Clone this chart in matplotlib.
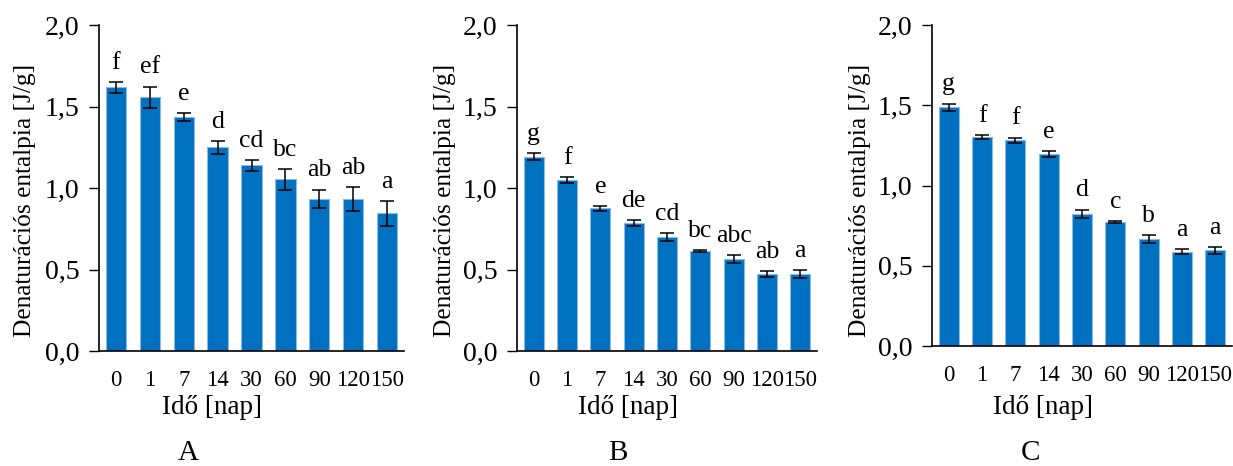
import matplotlib
matplotlib.use("Agg")
from matplotlib import pyplot as plt
from matplotlib.ticker import FuncFormatter, MultipleLocator

# Data
days = ["0", "1", "7", "14", "30", "60", "90", "120", "150"]

a_vals = [1.618, 1.556, 1.434, 1.250, 1.139, 1.053, 0.934, 0.931, 0.845]
a_err = [0.033, 0.066, 0.026, 0.039, 0.034, 0.065, 0.056, 0.075, 0.077]
a_letters = ["f", "ef", "e", "d", "cd", "bc", "ab", "ab", "a"]

b_vals = [1.192, 1.049, 0.875, 0.785, 0.698, 0.613, 0.566, 0.471, 0.471]
b_err = [0.023, 0.017, 0.014, 0.016, 0.023, 0.005, 0.024, 0.019, 0.023]
b_letters = ["g", "f", "e", "de", "cd", "bc", "abc", "ab", "a"]

c_vals = [1.488, 1.302, 1.281, 1.196, 0.825, 0.771, 0.665, 0.588, 0.596]
c_err = [0.022, 0.014, 0.017, 0.017, 0.025, 0.005, 0.024, 0.017, 0.020]
c_letters = ["g", "f", "f", "e", "d", "c", "b", "a", "a"]

panel_names = ["A", "B", "C"]

plt.rcParams["font.family"] = ["Liberation Serif", "DejaVu Serif"]

W, H = 1233, 466
fig = plt.figure(figsize=(W / 100, H / 100), dpi=100)

# axes boxes in pixels: left, top, right, bottom
boxes = [(99, 25, 404, 351), (517, 25, 817, 351), (932, 25, 1232, 346)]
ylab_x = [25, 445, 860]
name_x = [188, 618, 1030]


def draw_panel(box, vals, err, letters, name, nx, yx):
    l, t, r, b = box
    ax = fig.add_axes([l / W, 1 - b / H, (r - l) / W, (b - t) / H])
    x = range(len(days))
    ax.bar(x, vals, width=0.6, color="#0070C0", edgecolor="#8DB9E3",
           linewidth=0.8, zorder=2)
    ax.errorbar(x, vals, yerr=err, fmt="none", ecolor="black",
                elinewidth=1.1, capsize=4.7, capthick=1.1, zorder=3)
    for xi, v, e, s in zip(x, vals, err, letters):
        ax.annotate(s, (xi, v + e), xytext=(0, 9.5), textcoords="offset points",
                    ha="center", va="baseline", fontsize=18.5)
    ax.set_xlim(-0.5, len(days) - 0.5)
    ax.set_ylim(0, 2.0)
    ax.yaxis.set_major_locator(MultipleLocator(0.5))
    ax.yaxis.set_major_formatter(FuncFormatter(lambda v, p: f"{v:.1f}".replace(".", ",")))
    ax.set_xticks(list(x))
    ax.set_xticklabels(days, fontsize=16.5)
    ax.tick_params(axis="x", length=0, pad=14)
    ax.tick_params(axis="y", direction="out", length=7, width=1, labelsize=20, pad=7)
    for side in ["top", "right"]:
        ax.spines[side].set_visible(False)
    for side in ["left", "bottom"]:
        ax.spines[side].set_linewidth(1.2)
    ax.set_ylabel("Denaturációs entalpia [J/g]", fontsize=18.3)
    ax.set_xlabel("Idő [nap]", fontsize=19.5)
    ax.yaxis.set_label_coords(-(l - yx) / (r - l), (b - 200) / (b - t))
    ax.yaxis.label.set_va("center")
    ax.xaxis.set_label_coords(0.37, -(408 - b) / (b - t))
    ax.xaxis.label.set_va("center")
    fig.text(nx / W, 0.0, name, ha="center", va="bottom", fontsize=21)


draw_panel(boxes[0], a_vals, a_err, a_letters, panel_names[0], name_x[0], ylab_x[0])
draw_panel(boxes[1], b_vals, b_err, b_letters, panel_names[1], name_x[1], ylab_x[1])
draw_panel(boxes[2], c_vals, c_err, c_letters, panel_names[2], name_x[2], ylab_x[2])

fig.savefig("out.png", dpi=100)
